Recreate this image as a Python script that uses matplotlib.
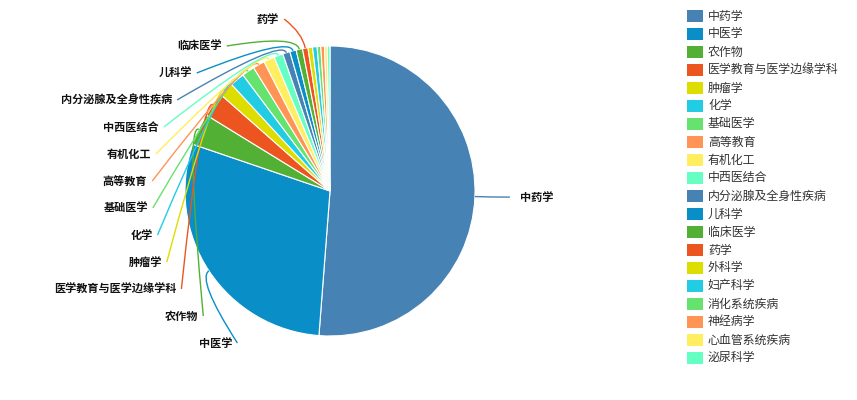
import numpy as np
import matplotlib
matplotlib.use("Agg")
import matplotlib.pyplot as plt
from matplotlib.path import Path
from matplotlib.patches import PathPatch, Rectangle

plt.rcParams["font.family"] = ["Noto Sans CJK SC", "DejaVu Sans"]

# Disciplines and their record counts
categories = [
    "中药学", "中医学", "农作物", "医学教育与医学边缘学科", "肿瘤学",
    "化学", "基础医学", "高等教育", "有机化工", "中西医结合",
    "内分泌腺及全身性疾病", "儿科学", "临床医学", "药学", "外科学",
    "妇产科学", "消化系统疾病", "神经病学", "心血管系统疾病", "泌尿科学",
]
values = [505, 286, 35, 27, 16, 16, 14, 13, 12, 10,
          8, 7, 7, 6, 5, 5, 4, 4, 3, 3]

palette = ["#4682b4", "#0a8ec8", "#52b034", "#ec5520", "#dddd00",
           "#22cce2", "#66e26e", "#ff9455", "#ffee5f", "#66ffc3"]
colors = [palette[i % len(palette)] for i in range(len(categories))]

n_labeled = 14

W, H = 857, 400
fig = plt.figure(figsize=(W / 100, H / 100), dpi=100)
ax = fig.add_axes([0, 0, 1, 1])


def Y(y):
    """Convert a top-origin pixel row to axis data units."""
    return H - y


cx, cy, r = 330, 191, 145
wedges, _ = ax.pie(values, colors=colors, startangle=90, counterclock=False,
                   center=(cx, Y(cy)), radius=r, frame=True,
                   wedgeprops=dict(edgecolor="white", linewidth=0.8))

# Guide lines and outside labels
len1, len2 = 15, 20
R_lab = 178
for i in range(n_labeled):
    w = wedges[i]
    ang = np.deg2rad((w.theta1 + w.theta2) / 2)
    ux, uy = np.cos(ang), np.sin(ang)
    p1 = (cx + r * ux, Y(cy) + r * uy)
    p2 = (cx + (r + len1) * ux, Y(cy) + (r + len1) * uy)
    if ux > 0:
        p3 = (p2[0] + len2, p2[1])
        tx, ha = p3[0] + 10, "left"
    else:
        ly = 343 - 27 * (i - 1)
        dy = ly - cy
        x_end = cx - np.sqrt(max(R_lab ** 2 - dy ** 2, 0))
        p3 = (x_end, Y(ly))
        tx, ha = x_end - 5, "right"
    path = Path([p1, p2, p3], [Path.MOVETO, Path.CURVE3, Path.CURVE3])
    ax.add_patch(PathPatch(path, facecolor="none", edgecolor=colors[i],
                           linewidth=1.0))
    ax.text(tx, p3[1], categories[i], ha=ha, va="center", fontsize=8.0,
            fontweight="bold", color="#111111")

# Legend
for i, (name, c) in enumerate(zip(categories, colors)):
    top = 10 + 18 * i
    ax.add_patch(Rectangle((687, Y(top + 11.5)), 16, 11.5, facecolor=c,
                           edgecolor="none"))
    ax.text(708, Y(top + 6), name, ha="left", va="center", fontsize=8.6,
            color="#333333")

ax.set_xlim(0, W)
ax.set_ylim(0, H)
ax.axis("off")

fig.savefig("out.png", dpi=100, facecolor="white")
